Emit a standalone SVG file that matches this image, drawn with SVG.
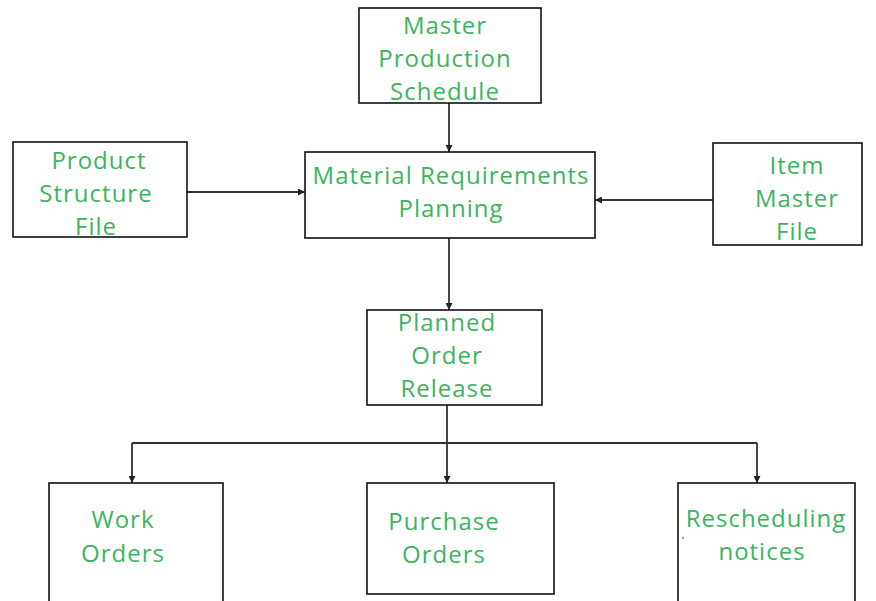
<svg xmlns="http://www.w3.org/2000/svg" width="876" height="601" viewBox="0 0 876 601">
  <defs>
    <marker id="arrow" viewBox="0 0 10 10" refX="10" refY="5" markerWidth="7" markerHeight="7" markerUnits="userSpaceOnUse" orient="auto">
      <path d="M0,0 L10,5 L0,10 z" fill="#222"/>
    </marker>
    <style>
      .box { fill: #ffffff; stroke: #111; stroke-width: 1.6; }
      .lbl { font-family: "Open Sans", "Noto Sans", sans-serif; font-size: 24px; letter-spacing: 1px; fill: #3cb55a; text-anchor: middle; }
      .conn { fill: none; stroke: #333; stroke-width: 1.8; }
    </style>
  </defs>
  <rect width="876" height="601" fill="#ffffff"/>

  <g id="connectors">
    <line class="conn" x1="449" y1="103" x2="449" y2="152" marker-end="url(#arrow)"/>
    <line class="conn" x1="187" y1="192" x2="305" y2="192" marker-end="url(#arrow)"/>
    <line class="conn" x1="713" y1="200" x2="595" y2="200" marker-end="url(#arrow)"/>
    <line class="conn" x1="449" y1="238" x2="449" y2="310" marker-end="url(#arrow)"/>
    <line class="conn" x1="447" y1="405" x2="447" y2="443"/>
    <line class="conn" x1="132" y1="443" x2="757" y2="443"/>
    <line class="conn" x1="132" y1="443" x2="132" y2="483" marker-end="url(#arrow)"/>
    <line class="conn" x1="447" y1="443" x2="447" y2="483" marker-end="url(#arrow)"/>
    <line class="conn" x1="757" y1="443" x2="757" y2="483" marker-end="url(#arrow)"/>
  </g>

  <g id="master-production-schedule">
    <rect class="box" x="359" y="8" width="182" height="95"/>
    <text class="lbl" x="445" y="34">Master</text>
    <text class="lbl" x="445" y="67">Production</text>
    <text class="lbl" x="445" y="100">Schedule</text>
  </g>

  <g id="product-structure-file">
    <rect class="box" x="13" y="142" width="174" height="95"/>
    <text class="lbl" x="99" y="169">Product</text>
    <text class="lbl" x="96" y="202">Structure</text>
    <text class="lbl" x="96" y="235">File</text>
  </g>

  <g id="material-requirements-planning">
    <rect class="box" x="305" y="152" width="290" height="86"/>
    <text class="lbl" x="451" y="184">Material Requirements</text>
    <text class="lbl" x="451" y="217">Planning</text>
  </g>

  <g id="item-master-file">
    <rect class="box" x="713" y="143" width="149" height="102"/>
    <text class="lbl" x="797" y="174">Item</text>
    <text class="lbl" x="797" y="207">Master</text>
    <text class="lbl" x="797" y="240">File</text>
  </g>

  <g id="planned-order-release">
    <rect class="box" x="367" y="310" width="175" height="95"/>
    <text class="lbl" x="447" y="331">Planned</text>
    <text class="lbl" x="447" y="364">Order</text>
    <text class="lbl" x="447" y="397">Release</text>
  </g>

  <g id="work-orders">
    <rect class="box" x="49" y="483" width="174" height="130"/>
    <text class="lbl" x="123" y="528">Work</text>
    <text class="lbl" x="123" y="562">Orders</text>
  </g>

  <g id="purchase-orders">
    <rect class="box" x="367" y="483" width="187" height="111"/>
    <text class="lbl" x="444" y="530">Purchase</text>
    <text class="lbl" x="444" y="563">Orders</text>
  </g>

  <g id="rescheduling-notices">
    <rect class="box" x="678" y="483" width="177" height="130"/>
    <text class="lbl" x="766" y="527">Rescheduling</text>
    <text class="lbl" x="762" y="560">notices</text>
    <circle cx="683" cy="538" r="0.8" fill="#222"/>
  </g>
</svg>
